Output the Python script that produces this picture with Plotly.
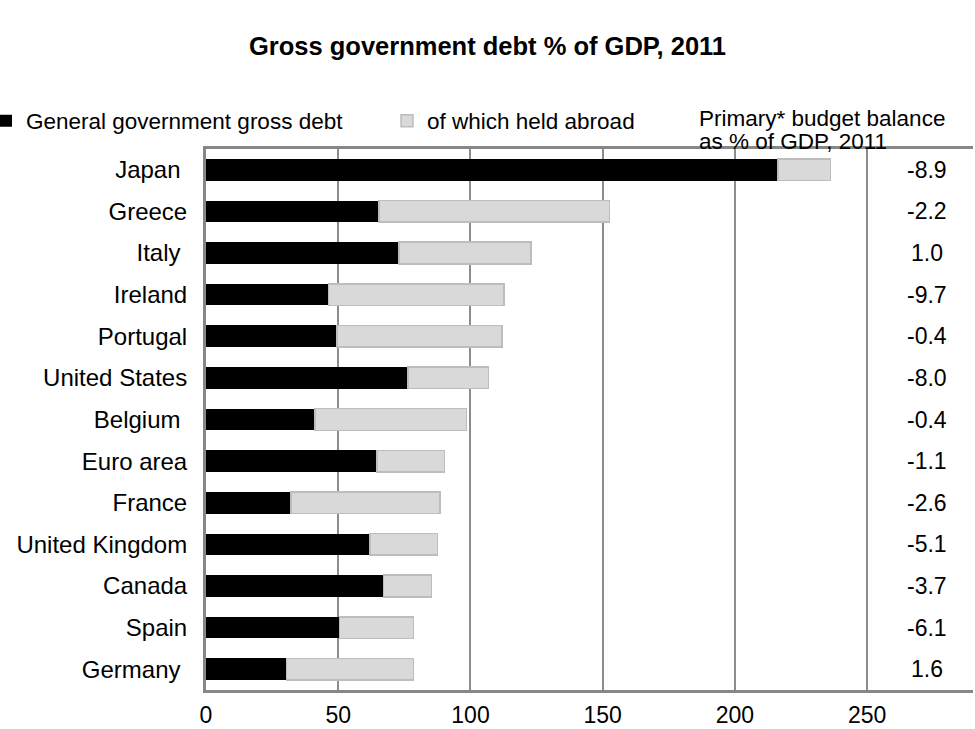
import plotly.graph_objects as go

countries = ["Japan\u00a0", "Greece", "Italy\u00a0", "Ireland", "Portugal", "United States",
             "Belgium\u00a0", "Euro area", "France", "United Kingdom", "Canada", "Spain",
             "Germany\u00a0"]
domestic = [216.3, 65.4, 72.9, 46.3, 49.5, 76.3, 41.3, 64.6, 32.1, 62.1, 67.1, 50.4, 30.4]
abroad = [19.8, 87.1, 49.9, 66.4, 62.4, 30.6, 57.1, 25.5, 56.4, 25.5, 18.1, 28.1, 48.1]
balance = ["-8.9", "-2.2", "1.0", "-9.7", "-0.4", "-8.0", "-0.4", "-1.1", "-2.6", "-5.1",
           "-3.7", "-6.1", "1.6"]
x_ticks = [0, 50, 100, 150, 200, 250]
balance_header = ["Primary* budget balance", "as % of GDP, 2011"]

FONT = "Liberation Sans, Arial, sans-serif"
W, H = 975, 729
ML, MR, MT, MB = 206, 2, 149, 39
PW, PH = W - ML - MR, H - MT - MB
XMAX = 290


def px_x(px):
    return (px - ML) / PW


def px_y(py):
    return (H - MB - py) / PH


fig = go.Figure()
fig.add_trace(go.Bar(
    y=countries, x=domestic, orientation="h", name="General government gross debt",
    marker=dict(color="#000000", line=dict(color="#000000", width=0)),
))
fig.add_trace(go.Bar(
    y=countries, x=abroad, orientation="h", name="of which held abroad",
    marker=dict(color="#d9d9d9", line=dict(color="#bdbdbd", width=1.5)),
))

for c, b in zip(countries, balance):
    fig.add_annotation(x=272.5, y=c, xref="x", yref="y", text=b, showarrow=False,
                       xanchor="center", yanchor="middle",
                       font=dict(size=23, color="#000000", family=FONT))

for line, py in zip(balance_header, [119, 141]):
    fig.add_annotation(
        x=px_x(697), y=px_y(py), xref="paper", yref="paper", xanchor="left",
        yanchor="middle", align="left", text=line, showarrow=False,
        font=dict(size=22.5, color="#000000", family=FONT),
    )

fig.update_layout(
    width=W, height=H,
    margin=dict(l=ML, r=MR, t=MT, b=MB, autoexpand=False),
    barmode="stack", bargap=0.48,
    paper_bgcolor="white", plot_bgcolor="white",
    title=dict(text="<b>Gross government debt % of GDP, 2011</b>", x=0.5, xanchor="center",
               y=1 - 46 / H, yanchor="middle",
               font=dict(size=25.5, color="#000000", family=FONT)),
    font=dict(family=FONT, color="#000000", size=22),
    showlegend=True,
    legend=dict(orientation="h", x=px_x(-14), xanchor="left",
                y=px_y(121), yanchor="middle",
                entrywidth=356, entrywidthmode="pixels", traceorder="normal",
                font=dict(size=22.5, color="#000000", family=FONT),
                bgcolor="rgba(0,0,0,0)"),
    xaxis=dict(range=[0, XMAX], tickvals=x_ticks, ticktext=[str(v) for v in x_ticks],
               showgrid=True, gridcolor="#8c8c8c", gridwidth=2,
               showline=True, linecolor="#878787", linewidth=3, mirror=True,
               zeroline=False, ticks="", tickfont=dict(size=23, family=FONT, color="#000000"),
               ticklabelstandoff=2, fixedrange=True),
    yaxis=dict(categoryorder="array", categoryarray=countries, autorange="reversed",
               showgrid=False, showline=True, linecolor="#878787", linewidth=3,
               ticks="", ticklabelstandoff=11,
               tickfont=dict(size=24, family=FONT, color="#000000"), fixedrange=True),
)

fig.write_html("out.html")
